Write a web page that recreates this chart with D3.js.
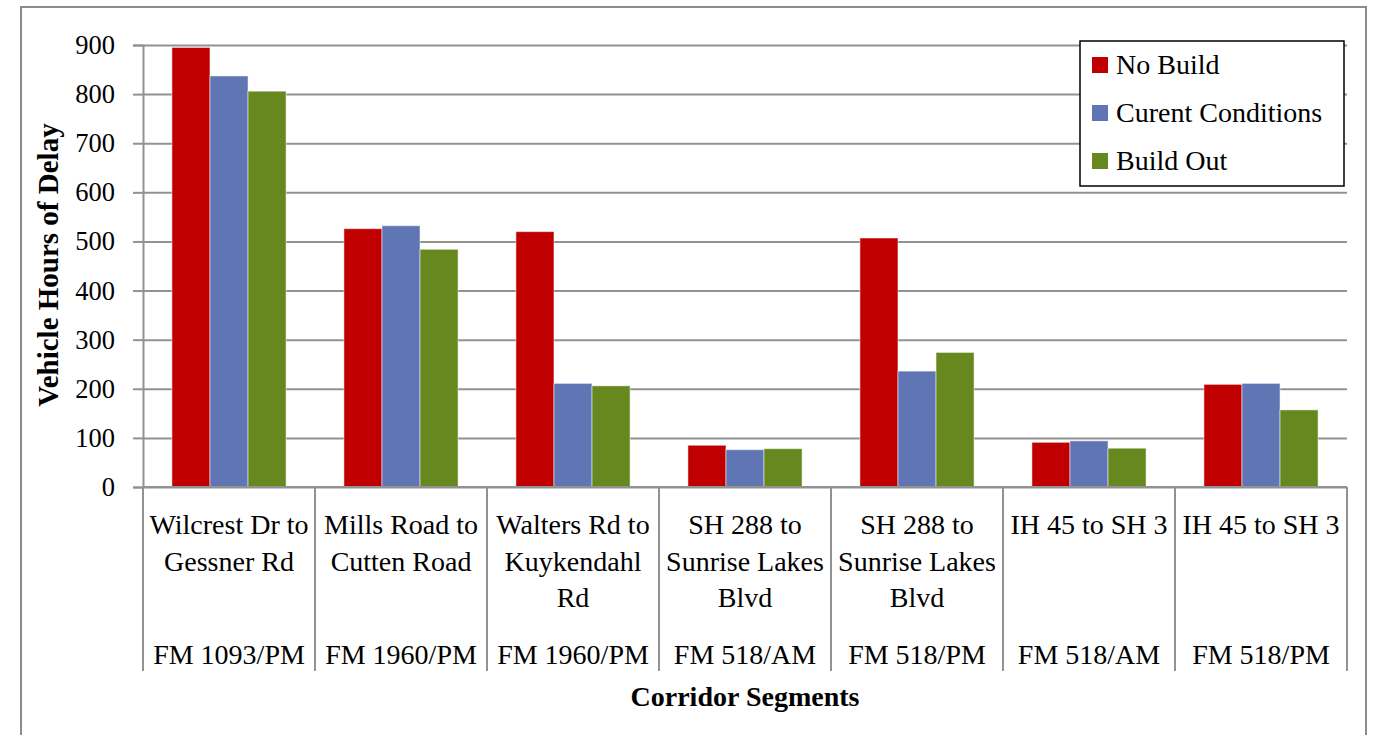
<!DOCTYPE html>
<html>
<head>
<meta charset="utf-8">
<script src="https://cdn.jsdelivr.net/npm/d3@7"></script>
<style>
  body { margin: 0; background: #fff; }
  svg text { font-family: "Liberation Serif", "Times New Roman", serif; fill: #000; }
  .grid line { stroke: #929292; stroke-width: 2; }
  .grid path { display: none; }
</style>
</head>
<body>
<svg id="chart" width="1376" height="735"></svg>
<script>
// segment names (wrapped the way the original shows them) and the road / period under each
const segments = [
  ["Wilcrest Dr to", "Gessner Rd"],
  ["Mills Road to", "Cutten Road"],
  ["Walters Rd to", "Kuykendahl", "Rd"],
  ["SH 288 to", "Sunrise Lakes", "Blvd"],
  ["SH 288 to", "Sunrise Lakes", "Blvd"],
  ["IH 45 to SH 3"],
  ["IH 45 to SH 3"]
];
const corridors = ["FM 1093/PM", "FM 1960/PM", "FM 1960/PM", "FM 518/AM", "FM 518/PM", "FM 518/AM", "FM 518/PM"];

const seriesNames = ["No Build", "Curent Conditions", "Build Out"];
const noBuild = [895, 526, 520, 85, 507, 91, 209];
const currentConditions = [837, 532, 211, 76, 236, 94, 211];
const buildOut = [806, 484, 206, 78, 274, 79, 157];
const yTicks = [0, 100, 200, 300, 400, 500, 600, 700, 800, 900];

const colors = ["#c00000", "#6076b4", "#66881f"];
const seriesValues = [noBuild, currentConditions, buildOut];

const svg = d3.select('#chart');

// outer frame
svg.append('rect')
  .attr('x', 21).attr('y', 7)
  .attr('width', 1345).attr('height', 760)
  .attr('fill', 'none')
  .attr('stroke', '#8c8c8c')
  .attr('stroke-width', 2);

const plotLeft = 143, plotRight = 1347, plotTop = 45, plotBottom = 487;
const width = plotRight - plotLeft;

const x = d3.scaleBand()
  .domain(d3.range(segments.length))
  .range([plotLeft, plotRight])
  .padding(0);

const xInner = d3.scaleBand()
  .domain(d3.range(seriesNames.length))
  .range([0, x.bandwidth()])
  .paddingInner(0)
  .paddingOuter(0.76);

const y = d3.scaleLinear()
  .domain([0, 900])
  .range([plotBottom, plotTop]);

// horizontal gridlines
svg.append('g')
  .attr('class', 'grid')
  .attr('transform', `translate(${plotLeft}, 0)`)
  .call(d3.axisLeft(y).tickValues(yTicks).tickSize(-width).tickFormat(''));

// y axis: outward ticks and labels
const yAxis = svg.append('g')
  .attr('transform', `translate(${plotLeft}, 0)`)
  .call(d3.axisLeft(y).tickValues(yTicks).tickSize(10).tickPadding(18));
yAxis.select('.domain').attr('stroke', '#929292').attr('stroke-width', 2);
yAxis.selectAll('.tick line').attr('stroke', '#929292').attr('stroke-width', 2);
yAxis.selectAll('.tick text')
  .style('font-size', '26.5px')
  .style('font-family', '"Liberation Serif", serif');

// bars
const groups = svg.append('g')
  .selectAll('g')
  .data(segments.map((s, i) => i))
  .enter()
  .append('g')
  .attr('transform', (i) => `translate(${x(i)}, 0)`);

groups.selectAll('rect')
  .data((i) => seriesValues.map((vals, k) => ({ k: k, v: vals[i] })))
  .enter()
  .append('rect')
  .attr('x', (d) => xInner(d.k))
  .attr('y', (d) => y(d.v))
  .attr('width', xInner.bandwidth())
  .attr('height', (d) => y(0) - y(d.v))
  .attr('fill', (d) => colors[d.k])
  .attr('stroke', 'rgba(255,255,255,0.5)')
  .attr('stroke-width', 1);

// x axis line and category dividers
svg.append('line')
  .attr('x1', plotLeft).attr('x2', plotRight)
  .attr('y1', plotBottom).attr('y2', plotBottom)
  .attr('stroke', '#929292').attr('stroke-width', 2);

const dividers = d3.range(segments.length + 1).map((i) => i < segments.length ? x(i) : plotRight);
svg.append('g')
  .selectAll('line')
  .data(dividers)
  .enter()
  .append('line')
  .attr('x1', (d) => d).attr('x2', (d) => d)
  .attr('y1', plotBottom).attr('y2', 671)
  .attr('stroke', '#929292').attr('stroke-width', 2);

// category labels
const labels = svg.append('g')
  .selectAll('text')
  .data(segments)
  .enter()
  .append('text')
  .attr('text-anchor', 'middle')
  .style('font-size', '28px')
  .attr('transform', (d, i) => `translate(${x(i) + x.bandwidth() / 2}, 534)`);

labels.selectAll('tspan')
  .data((d) => d)
  .enter()
  .append('tspan')
  .attr('x', 0)
  .attr('y', (d, j) => j * 36.5)
  .text((d) => d);

svg.append('g')
  .selectAll('text')
  .data(corridors)
  .enter()
  .append('text')
  .attr('text-anchor', 'middle')
  .attr('x', (d, i) => x(i) + x.bandwidth() / 2)
  .attr('y', 664)
  .style('font-size', '28px')
  .text((d) => d);

// axis titles
svg.append('text')
  .attr('text-anchor', 'middle')
  .attr('x', (plotLeft + plotRight) / 2)
  .attr('y', 706)
  .style('font-size', '28px')
  .style('font-weight', 'bold')
  .text('Corridor Segments');

svg.append('text')
  .attr('text-anchor', 'middle')
  .attr('transform', `translate(58, ${(plotTop + plotBottom) / 2 - 1}) rotate(-90)`)
  .style('font-size', '29px')
  .style('font-weight', 'bold')
  .text('Vehicle Hours of Delay');

// legend
const legend = svg.append('g').attr('transform', 'translate(1080, 41)');
legend.append('rect')
  .attr('width', 264).attr('height', 145)
  .attr('fill', '#fff')
  .attr('stroke', '#000')
  .attr('stroke-width', 1.5);

const items = legend.selectAll('g')
  .data(seriesNames)
  .enter()
  .append('g')
  .attr('transform', (d, i) => `translate(12, ${24 + i * 48})`);

items.append('rect')
  .attr('x', 0).attr('y', -8)
  .attr('width', 16).attr('height', 16)
  .attr('fill', (d, i) => colors[i]);

items.append('text')
  .attr('x', 24)
  .attr('y', 9)
  .style('font-size', '28px')
  .text((d) => d);
</script>
</body>
</html>
